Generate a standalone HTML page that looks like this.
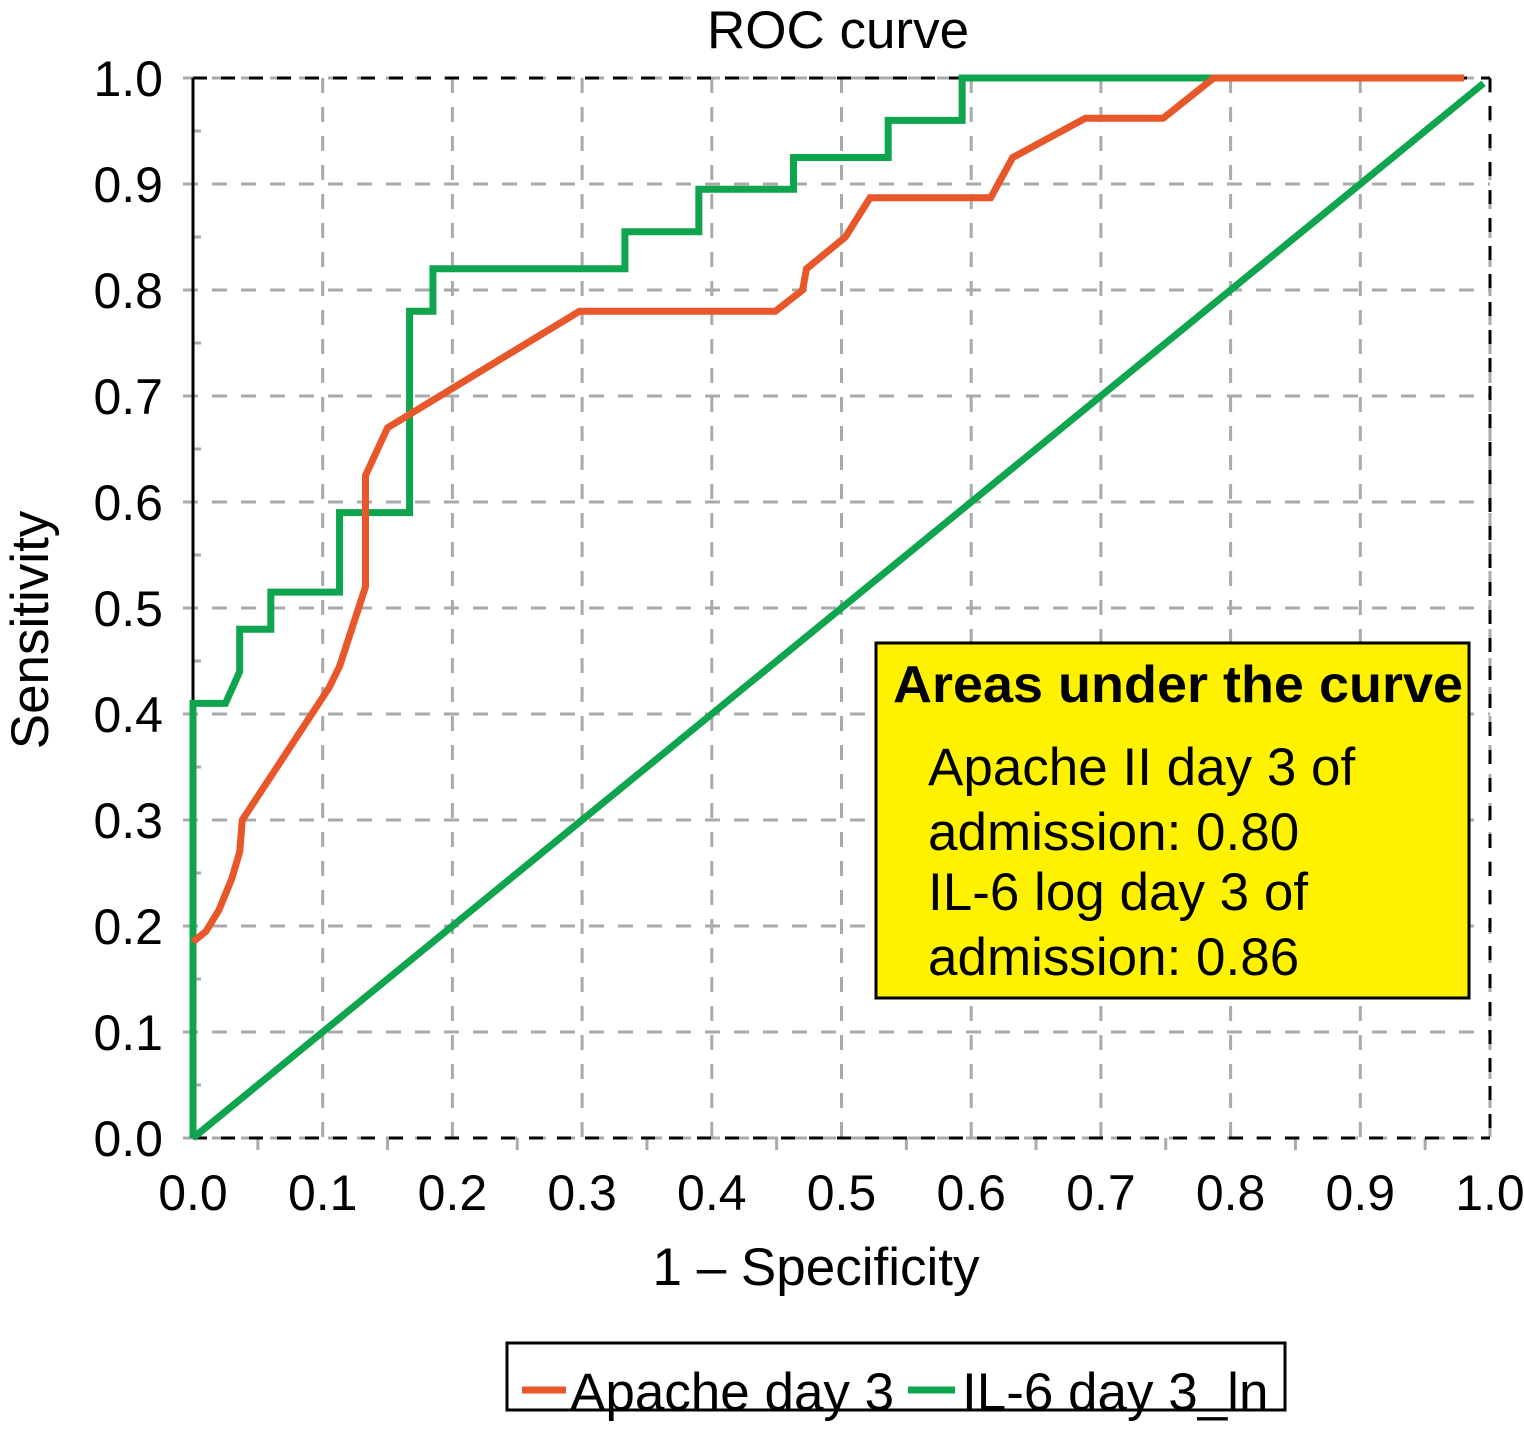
<!DOCTYPE html>
<html><head><meta charset="utf-8"><style>
body{margin:0;background:#fff;}
svg{display:block;font-family:"Liberation Sans",Arial,sans-serif;}
</style></head><body>
<svg id="chart" width="1524" height="1438" viewBox="0 0 1524 1438" xmlns="http://www.w3.org/2000/svg">
<g id="grid"></g>
<g id="axes"></g>
<g id="series"></g>
<text x="838" y="48" font-size="53" text-anchor="middle">ROC curve</text>
<text x="816" y="1285" font-size="53" text-anchor="middle">1 – Specificity</text>
<text transform="translate(48,630) rotate(-90)" font-size="53" text-anchor="middle">Sensitivity</text>
<g>
<rect x="876" y="643" width="593" height="355" fill="#fff200" stroke="#000" stroke-width="3"/>
<text x="893" y="702" font-size="52" font-weight="bold" textLength="570" lengthAdjust="spacingAndGlyphs">Areas under the curve</text>
<text x="928" y="785" font-size="53">Apache II day 3 of</text>
<text x="928" y="850" font-size="53">admission: 0.80</text>
<text x="928" y="910" font-size="53">IL-6 log day 3 of</text>
<text x="928" y="975" font-size="53">admission: 0.86</text>
</g>
<g>
<rect x="507" y="1343" width="778" height="67" fill="#fff" stroke="#000" stroke-width="3"/>
<line x1="522" y1="1390" x2="566" y2="1390" stroke="#e8572a" stroke-width="7"/>
<text x="570" y="1410" font-size="53">Apache day 3</text>
<line x1="908" y1="1390" x2="955" y2="1390" stroke="#0fa44e" stroke-width="7"/>
<text x="962" y="1410" font-size="53">IL-6 day 3_ln</text>
</g>
</svg>
<script>
const xTicks=["0.0","0.1","0.2","0.3","0.4","0.5","0.6","0.7","0.8","0.9","1.0"];
const yTicks=["0.0","0.1","0.2","0.3","0.4","0.5","0.6","0.7","0.8","0.9","1.0"];
const il6X=[0,0,0.025,0.036,0.036,0.06,0.06,0.113,0.113,0.167,0.167,0.185,0.185,0.333,0.333,0.39,0.39,0.463,0.463,0.536,0.536,0.593,0.593,0.787];
const il6Y=[0,0.41,0.41,0.44,0.48,0.48,0.515,0.515,0.59,0.59,0.78,0.78,0.82,0.82,0.855,0.855,0.895,0.895,0.925,0.925,0.96,0.96,1,1];
const apacheX=[0,0.01,0.02,0.03,0.036,0.038,0.105,0.113,0.133,0.133,0.15,0.298,0.449,0.47,0.473,0.503,0.522,0.615,0.632,0.688,0.748,0.787,0.98];
const apacheY=[0.185,0.195,0.215,0.245,0.27,0.30,0.425,0.445,0.52,0.625,0.67,0.78,0.78,0.80,0.82,0.85,0.887,0.887,0.925,0.962,0.962,1,1];
const refX=[0,0.995];
const refY=[0,0.995];
const NS="http://www.w3.org/2000/svg";
const X0=193,X1=1490,Y0=1138,Y1=78;
const sx=v=>X0+(X1-X0)*v, sy=v=>Y0-(Y0-Y1)*v;
function mk(tag,attrs,parent){const e=document.createElementNS(NS,tag);for(const k in attrs)e.setAttribute(k,attrs[k]);document.getElementById(parent).appendChild(e);return e;}
const n=xTicks.length-1;
for(let i=0;i<=n;i++){
 const x=sx(i/n),y=sy(i/n);
 let g=mk('line',{x1:x,y1:Y1,x2:x,y2:Y0+10,stroke:'#aaa','stroke-width':3,'stroke-dasharray':'15 14'},'grid');
 
 
 g=mk('line',{x1:X0-10,y1:y,x2:X1,y2:y,stroke:'#aaa','stroke-width':3,'stroke-dasharray':'15 14'},'grid');
 
 
 let t=mk('text',{x:x,y:Y0+72,'font-size':50,'text-anchor':'middle'},'axes');t.textContent=xTicks[i];
 
 
 t=mk('text',{x:X0-30,y:y+18,'font-size':50,'text-anchor':'end'},'axes');t.textContent=yTicks[i];
 
 
 if(i<n){const xm=sx((i+0.5)/n),ym=sy((i+0.5)/n);
  mk('line',{x1:xm,y1:Y0,x2:xm,y2:Y0+12,stroke:'#aaa','stroke-width':3},'grid');
  mk('line',{x1:X0,y1:ym,x2:X0+8,y2:ym,stroke:'#aaa','stroke-width':3},'grid');}
}
let a=mk('line',{x1:X0,y1:Y1,x2:X0,y2:Y0,stroke:'#000','stroke-width':3},'axes');

a=mk('line',{x1:X0,y1:Y0,x2:X1,y2:Y0,stroke:'#000','stroke-width':3,'stroke-dasharray':'14 14'},'axes');

mk('line',{x1:X0,y1:Y1,x2:X1,y2:Y1,stroke:'#000','stroke-width':3,'stroke-dasharray':'14 14'},'axes');
mk('line',{x1:X1,y1:Y1,x2:X1,y2:Y0,stroke:'#000','stroke-width':3,'stroke-dasharray':'14 14'},'axes');
function poly(xs,ys,color,name){
 const p=mk('polyline',{points:xs.map((v,i)=>sx(v)+','+sy(ys[i])).join(' '),fill:'none',stroke:color,'stroke-width':7,'stroke-linejoin':'miter'},'series');
 
 
}
poly(refX,refY,'#0fa44e','reference-line');
poly(il6X,il6Y,'#0fa44e','il6-curve');
poly(apacheX,apacheY,'#e8572a','apache-curve');
</script>
</body></html>
